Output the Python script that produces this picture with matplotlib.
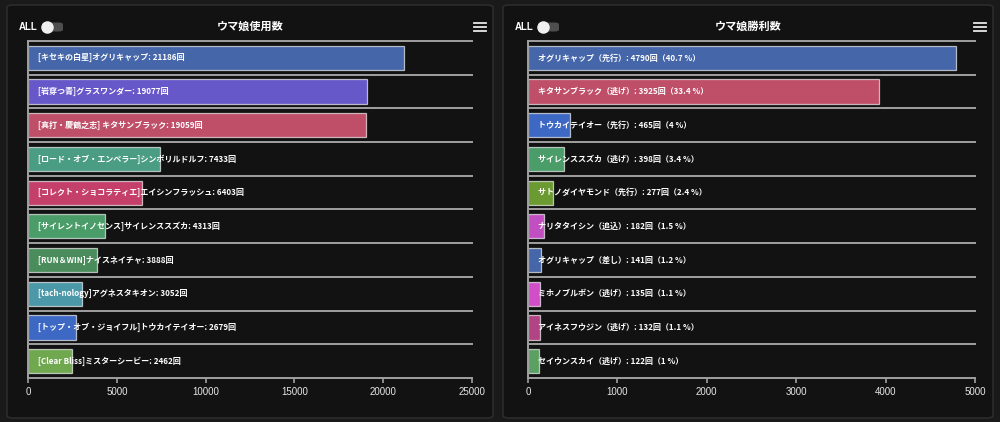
import matplotlib
matplotlib.use("Agg")
import matplotlib.pyplot as plt
from matplotlib.patches import FancyBboxPatch
from matplotlib.lines import Line2D
import numpy as np

plt.rcParams['font.family'] = ['Noto Sans CJK JP', 'DejaVu Sans']

# ---------------- data ----------------
usage_titles = ["ウマ娘使用数"]
usage_names = [
    "[キセキの白星]オグリキャップ",
    "[岩穿つ青]グラスワンダー",
    "[真打・慶鶴之志] キタサンブラック",
    "[ロード・オブ・エンペラー]シンボリルドルフ",
    "[コレクト・ショコラティエ]エイシンフラッシュ",
    "[サイレントイノセンス]サイレンススズカ",
    "[RUN＆WIN]ナイスネイチャ",
    "[tach-nology]アグネスタキオン",
    "[トップ・オブ・ジョイフル]トウカイテイオー",
    "[Clear Bliss]ミスターシービー",
]
usage_values = [21186, 19077, 19059, 7433, 6403, 4313, 3888, 3052, 2679, 2462]
usage_colors = ["#4566a9", "#6658c8", "#bf4f68", "#4a9c82", "#c4406a",
                "#4a9c68", "#4a8c5c", "#4b98a8", "#3d68c4", "#6fa84e"]
usage_ticks = [0, 5000, 10000, 15000, 20000, 25000]

win_title = "ウマ娘勝利数"
win_names = [
    "オグリキャップ（先行）",
    "キタサンブラック（逃げ）",
    "トウカイテイオー（先行）",
    "サイレンススズカ（逃げ）",
    "サトノダイヤモンド（先行）",
    "ナリタタイシン（追込）",
    "オグリキャップ（差し）",
    "ミホノブルボン（逃げ）",
    "アイネスフウジン（逃げ）",
    "セイウンスカイ（逃げ）",
]
win_values = [4790, 3925, 465, 398, 277, 182, 141, 135, 132, 122]
win_pct = ["40.7", "33.4", "4", "3.4", "2.4", "1.5", "1.2", "1.1", "1.1", "1"]
win_colors = ["#4566a9", "#bf4f68", "#3d68c4", "#4a9c68", "#6b9a32",
              "#c24fc2", "#4566a9", "#d04fc8", "#b04484", "#5aa062"]
win_ticks = [0, 1000, 2000, 3000, 4000, 5000]

W, H = 1000, 422
fig = plt.figure(figsize=(W / 100, H / 100), dpi=100)
fig.patch.set_facecolor("#1a1a1a")


def fx(px):
    return px / W


def fy(py):
    return 1 - py / H


def panel(x0, x1, title):
    p = FancyBboxPatch((fx(x0), fy(418)), fx(x1 - x0), (418 - 5) / H,
                       boxstyle="round,pad=0,rounding_size=0.006",
                       transform=fig.transFigure, facecolor="#121212",
                       edgecolor="#303030", linewidth=1.0, zorder=-10)
    fig.patches.append(p)
    fig.text(fx((x0 + x1) / 2), fy(26), title, color="white", fontsize=8,
             fontweight="bold", ha="center", va="center")
    fig.text(fx(x0 + 12), fy(27), "ALL", color="white", fontsize=6.9,
             fontweight="bold", ha="left", va="center",
             family=["Liberation Sans", "DejaVu Sans"])
    track = FancyBboxPatch((fx(x0 + 35), fy(31.5)), fx(21), 9 / H,
                           boxstyle="round,pad=0,rounding_size=0.0045",
                           transform=fig.transFigure, facecolor="#4e4e4e",
                           edgecolor="none", zorder=-5)
    fig.patches.append(track)
    fig.lines.append(Line2D([fx(x0 + 39.5)], [fy(27)], marker="o", markersize=9,
                            markerfacecolor="#f0f0f0", markeredgecolor="none",
                            transform=fig.transFigure, zorder=-4))
    for dy in (-4, 0, 4):
        fig.lines.append(Line2D([fx(x1 - 19), fx(x1 - 7)], [fy(27 + dy)] * 2,
                                color="#e8e8e8", linewidth=1.3,
                                transform=fig.transFigure, zorder=-4))


def bar_axes(left_px, right_px, values, colors, labels, ticks):
    ax = fig.add_axes([fx(left_px), fy(378), fx(right_px - left_px), (378 - 41) / H])
    ax.set_zorder(5)
    ax.set_facecolor("none")
    n = len(values)
    y = np.arange(n)
    ax.barh(y, values, height=0.72, color=colors,
            edgecolor=(1, 1, 1, 0.65), linewidth=0.9, zorder=2)
    ax.set_ylim(n - 0.5, -0.5)
    ax.set_xlim(ticks[0], ticks[-1])
    for b in np.arange(n) - 0.5:
        ax.axhline(b, color="#a0a0a0", linewidth=1.4, zorder=1, clip_on=False)
    for yi, lab in zip(y, labels):
        ax.annotate(lab, xy=(0, yi), xytext=(10, 0), textcoords="offset pixels",
                    color="white", fontsize=5.8, fontweight="bold",
                    ha="left", va="center", zorder=4)
    ax.set_yticks([])
    ax.set_xticks(ticks)
    ax.set_xticklabels([str(t) for t in ticks], fontsize=7,
                       family=["Liberation Sans", "DejaVu Sans"])
    ax.tick_params(axis="x", colors="#a0a0a0", length=3.5, width=1.2, pad=3,
                   labelcolor="#e6e6e6")
    for s in ("top", "right"):
        ax.spines[s].set_visible(False)
    for s in ("left", "bottom"):
        ax.spines[s].set_color("#a0a0a0")
        ax.spines[s].set_linewidth(1.4)
    return ax


panel(7, 493, usage_titles[0])
panel(503, 993, win_title)

usage_labels = [f"{nm}: {v}回" for nm, v in zip(usage_names, usage_values)]
win_labels = [f"{nm}: {v}回（{p} %）" for nm, v, p in zip(win_names, win_values, win_pct)]

bar_axes(28, 472, usage_values, usage_colors, usage_labels, usage_ticks)
bar_axes(528, 975, win_values, win_colors, win_labels, win_ticks)

fig.savefig("out.png", dpi=100, facecolor=fig.get_facecolor())
